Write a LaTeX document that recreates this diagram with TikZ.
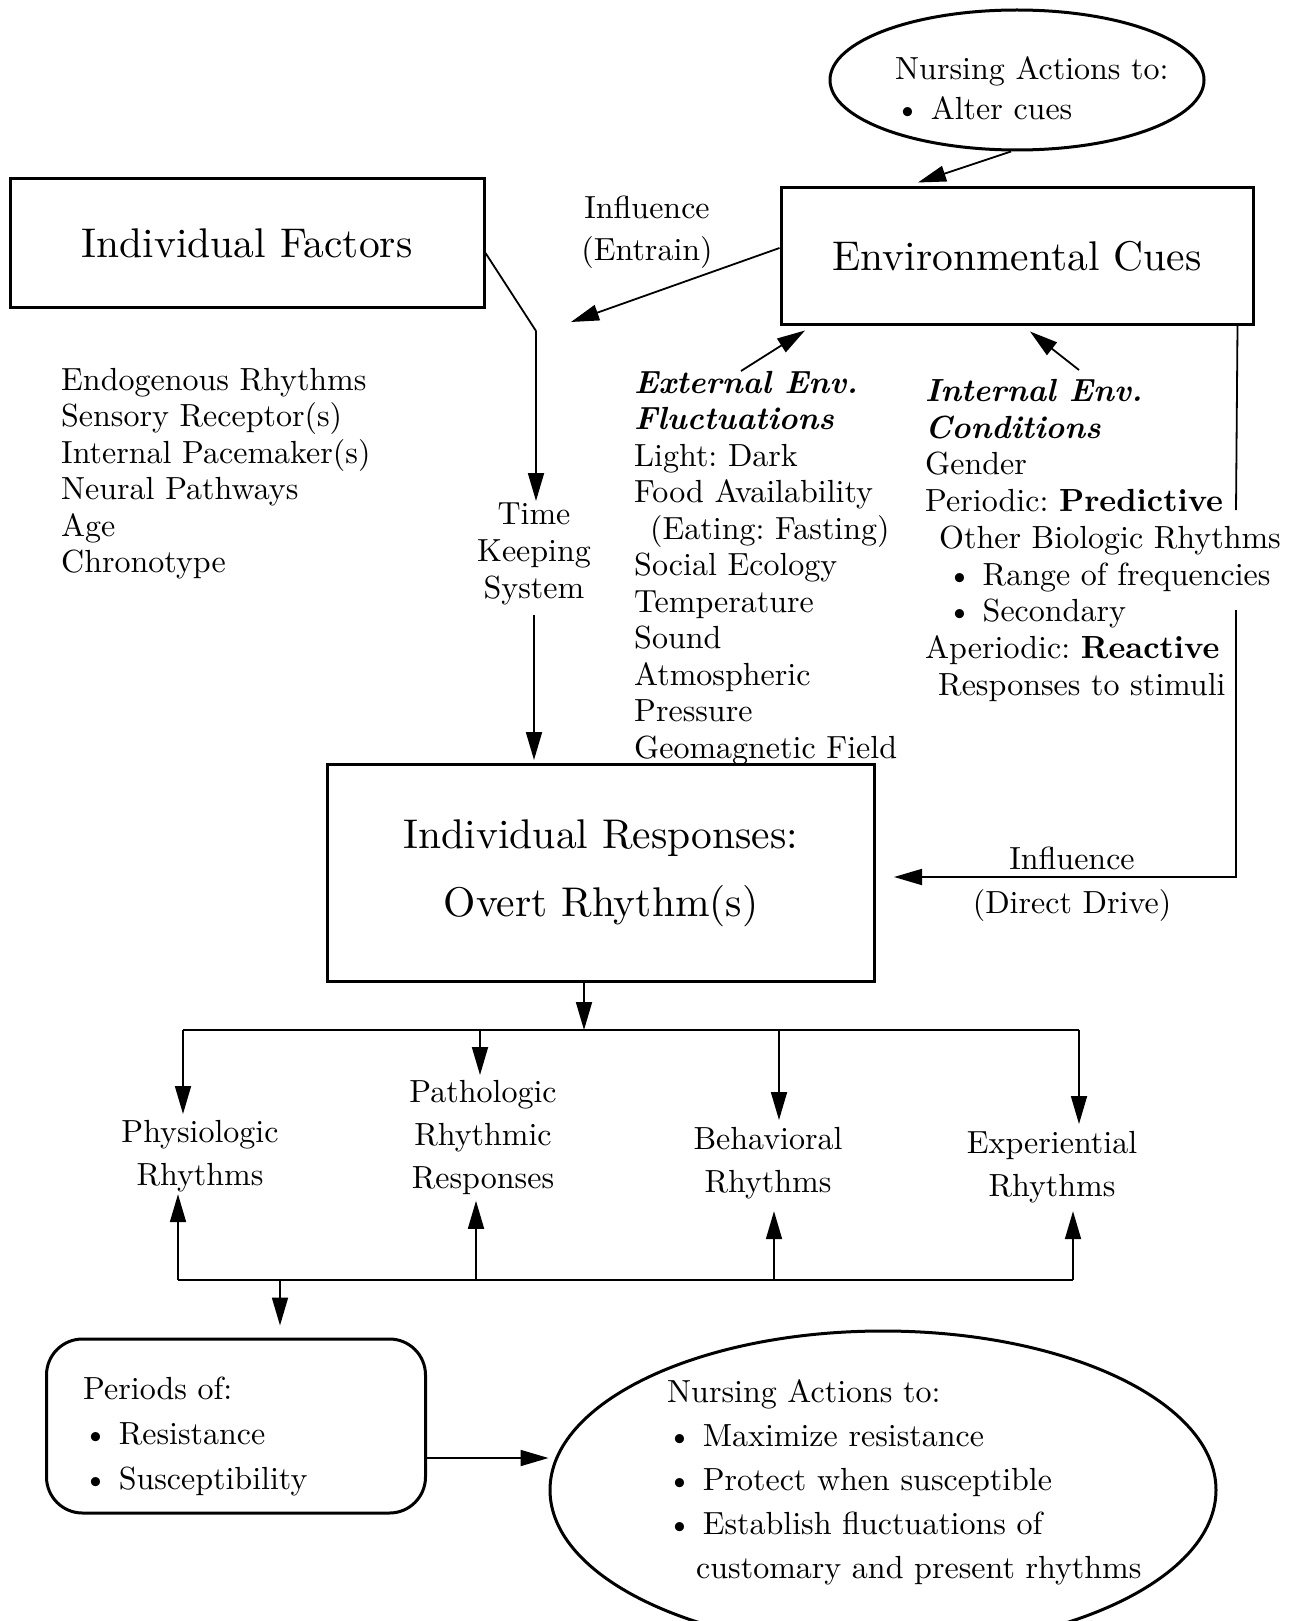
\documentclass[tikz,border=0pt]{standalone}
\usepackage{fontspec}
\setmainfont{lmroman10}[Extension=.otf, UprightFont=*-regular, BoldFont=*-bold, ItalicFont=*-italic, BoldItalicFont=*-bolditalic]
\usetikzlibrary{arrows.meta,shapes.geometric,calc}
\frenchspacing
\begin{document}
\begin{tikzpicture}[x=1pt,y=-1pt,
  box/.style={draw, line width=3pt, inner sep=0pt, align=center, font=\fontsize{41.5}{68}\selectfont},
  conn/.style={line width=1.8pt},
  arr/.style={conn, -{Triangle[length=28pt,width=16pt]}},
  txt/.style={inner sep=0pt, align=left, font=\fontsize{32}{36.5}\selectfont},
  lab/.style={inner sep=0pt, align=center, font=\fontsize{32}{43}\selectfont},
  oval/.style={draw, ellipse, line width=3pt, inner sep=0pt},
]
\clip (0,0) rectangle (1301,1621);
\fill[white] (0,0) rectangle (1301,1621);

% main boxes
\node[box, minimum width=474pt, minimum height=129pt] (IF) at (247,243) {Individual Factors};
\node[box, minimum width=472pt, minimum height=136pt] (EC) at (1017,256) {Environmental Cues};
\node[box, minimum width=547pt, minimum height=217pt] (IR) at (601,873) {Individual Responses:\\Overt Rhythm(s)};

% top ellipse
\node[oval, minimum width=374pt, minimum height=140pt] (NA1) at (1017,80) {};
\node[txt, font=\fontsize{32}{40}\selectfont, anchor=north west] (NA1t) at (895,56) {Nursing Actions to:\\\textbullet\ Alter cues};

% bottom ellipse
\node[oval, minimum width=666pt, minimum height=318pt] (NA2) at (883,1490) {};
\node[txt, font=\fontsize{32}{44}\selectfont, anchor=north west] (NA2t) at (667,1379) {Nursing Actions to:\\\textbullet\ Maximize resistance\\\textbullet\ Protect when susceptible\\\textbullet\ Establish fluctuations of\\\hspace*{29pt}customary and present rhythms};

% periods box
\node[draw, rounded corners=36pt, line width=3pt, minimum width=379pt, minimum height=174pt] (PR) at (236,1426) {};
\node[txt, font=\fontsize{32}{45}\selectfont, anchor=north west] (PRt) at (83,1377) {Periods of:\\\textbullet\ Resistance\\\textbullet\ Susceptibility};

% lists
\node[txt, anchor=north west] (IFlist) at (61,368) {Endogenous Rhythms\\Sensory Receptor(s)\\Internal Pacemaker(s)\\Neural Pathways\\Age\\Chronotype};
\node[txt, anchor=north west] (ext) at (634,371) {\textbf{\textit{External Env.}}\\\textbf{\textit{Fluctuations}}\\Light: Dark\\Food Availability\\\hspace*{16pt}(Eating: Fasting)\\Social Ecology\\Temperature\\Sound\\Atmospheric\\Pressure\\Geomagnetic Field};
\node[txt, font=\fontsize{32}{36.75}\selectfont, anchor=north west] (int) at (925,379) {\textbf{\textit{Internal Env.}}\\\textbf{\textit{Conditions}}\\Gender\\Periodic: \textbf{Predictive}\\\hspace*{14pt}Other Biologic Rhythms\\\hspace*{22pt}\textbullet\ Range of frequencies\\\hspace*{22pt}\textbullet\ Secondary\\Aperiodic: \textbf{Reactive}\\\hspace*{13pt}Responses to stimuli};

% labels
\node[lab, font=\fontsize{32}{37}\selectfont, anchor=north] (TK) at (534,503) {Time\\Keeping\\System};
\node[lab, font=\fontsize{32}{42}\selectfont, anchor=north] (L1) at (647,196) {Influence\\(Entrain)};
\node[lab, font=\fontsize{32}{44}\selectfont, anchor=north] (L2) at (1072,847) {Influence\\(Direct Drive)};

\node[lab, anchor=north] (PH) at (200,1120) {Physiologic\\Rhythms};
\node[lab, anchor=north] (PA) at (483,1080) {Pathologic\\Rhythmic\\Responses};
\node[lab, anchor=north] (BE) at (768,1127) {Behavioral\\Rhythms};
\node[lab, anchor=north] (EX) at (1052,1131) {Experiential\\Rhythms};

% coordinates
\coordinate (bend) at (536,331);
\coordinate (entrainTip) at (571,322);
\coordinate (fork) at (584,1030);
\coordinate (f1) at (183,1030);
\coordinate (f2) at (480,1030);
\coordinate (f3) at (779,1030);
\coordinate (f4) at (1079,1030);
\coordinate (c1) at (178,1280);
\coordinate (c2) at (476,1280);
\coordinate (c3) at (774,1280);
\coordinate (c4) at (1073,1280);
\coordinate (cdown) at (280,1280);
\coordinate (fbA) at (1236,510);
\coordinate (fbB) at (1236,610);
\coordinate (ay) at (0,1458);

% connectors
\draw[arr] ([xshift=-6pt]NA1.south) -- ([xshift=-99pt,yshift=4pt]EC.north);
\draw[arr] ([yshift=8pt]EC.west) -- (entrainTip);
\draw[conn] ([yshift=-10pt]IF.east) -- (bend);
\draw[arr, shorten >=2pt] (bend) -- (bend |- TK.north);
\draw[arr, shorten <=9pt, shorten >=3pt] (TK.south) -- (TK.south |- IR.north);
\draw[arr] ([xshift=107pt]ext.north west) -- ([xshift=-212pt,yshift=-5pt]EC.south);
\draw[arr] ([xshift=154pt,yshift=9pt]int.north west) -- ([xshift=13pt,yshift=-6pt]EC.south);
\draw[conn] ([xshift=-17pt]EC.south east) -- (fbA);
\draw[arr] (fbB) |- ([xshift=18pt,yshift=-4pt]IR.east);

\draw[arr] (IR.south -| fork) -- (fork);
\draw[conn] (f1) -- (f4);
\draw[arr, shorten >=6pt] (f1) -- (f1 |- PH.north);
\draw[arr, shorten >=5pt] (f2) -- (f2 |- PA.north);
\draw[arr, shorten >=7pt] (f3) -- (f3 |- BE.north);
\draw[arr, shorten >=7pt] (f4) -- (f4 |- EX.north);

\draw[conn] (c1) -- (c4);
\draw[arr, shorten >=2pt] (c1) -- (c1 |- PH.south);
\draw[arr, shorten >=6pt] (c2) -- (c2 |- PA.south);
\draw[arr, shorten >=12pt] (c3) -- (c3 |- BE.south);
\draw[arr, shorten >=8pt] (c4) -- (c4 |- EX.south);
\draw[arr, shorten >=12pt] (cdown) -- (cdown |- PR.north);
\draw[arr] (PR.east |- ay) -- (NA2.west |- ay);
\end{tikzpicture}
\end{document}
